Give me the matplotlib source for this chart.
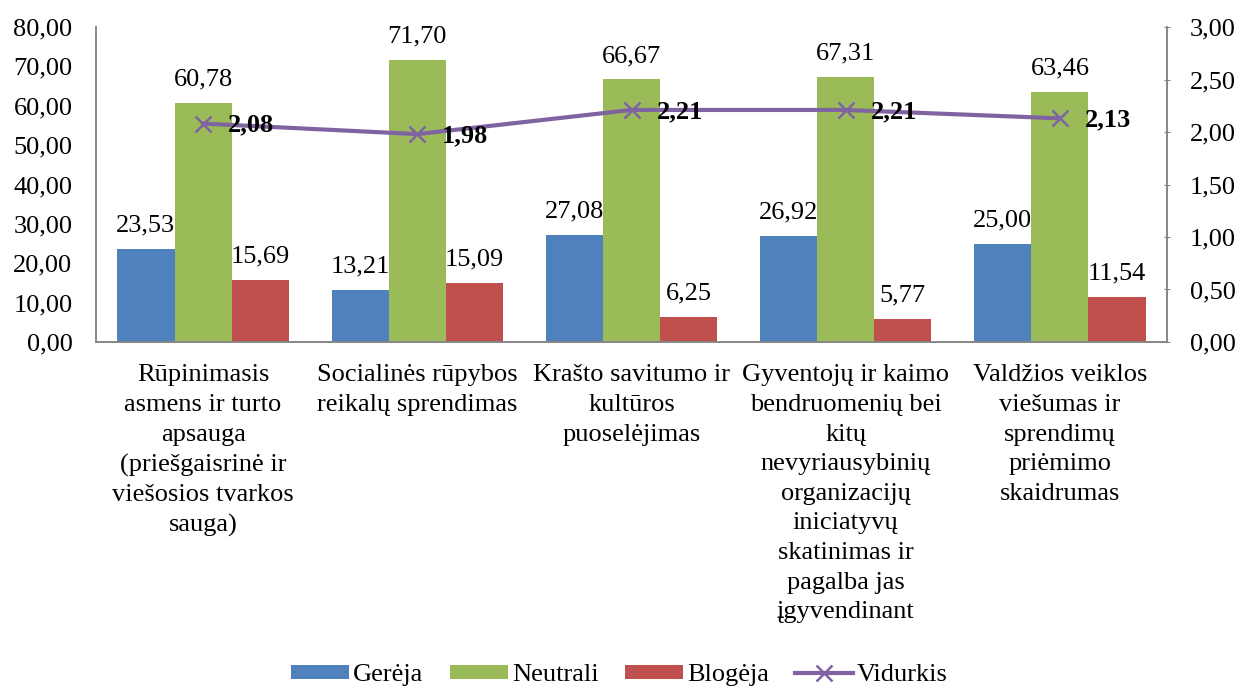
import matplotlib
matplotlib.use('Agg')
import matplotlib.pyplot as plt
import numpy as np
from matplotlib.ticker import FuncFormatter

plt.rcParams['font.family'] = ['Liberation Serif', 'DejaVu Serif']

categories = ['Rūpinimasis\nasmens ir turto\napsauga\n(priešgaisrinė ir\nviešosios tvarkos\nsauga)',
              'Socialinės rūpybos\nreikalų sprendimas',
              'Krašto savitumo ir\nkultūros\npuoselėjimas',
              'Gyventojų ir kaimo\nbendruomenių bei\nkitų\nnevyriausybinių\norganizacijų\niniciatyvų\nskatinimas ir\npagalba jas\nįgyvendinant',
              'Valdžios veiklos\nviešumas ir\nsprendimų\npriėmimo\nskaidrumas']
gereja = [23.53, 13.21, 27.08, 26.92, 25.00]
neutrali = [60.78, 71.70, 66.67, 67.31, 63.46]
blogeja = [15.69, 15.09, 6.25, 5.77, 11.54]
vidurkis = [2.08, 1.98, 2.21, 2.21, 2.13]


def fmt(v):
    return f'{v:.2f}'.replace('.', ',')


fig = plt.figure(figsize=(12.39, 6.86), dpi=100)
ax = fig.add_axes([96/1239, 1-342/686, (1167-96)/1239, (342-27)/686])
ax2 = ax.twinx()

x = np.arange(len(categories))
w = 0.267
series = [(gereja, '#4F81BD', 'Gerėja', -w),
          (neutrali, '#9BBB59', 'Neutrali', 0),
          (blogeja, '#C0504D', 'Blogėja', w)]
handles = []
for vals, col, lab, off in series:
    b = ax.bar(x + off, vals, w, color=col, label=lab)
    handles.append(b)
    for xi, v in zip(x + off, vals):
        ax.annotate(fmt(v), (xi, v), xytext=(0, 9), textcoords='offset points',
                    ha='center', va='bottom', fontsize=19)

ln, = ax2.plot(x, vidurkis, color='#8064A2', lw=3, marker='x', ms=11, mew=1.8,
               label='Vidurkis')
handles.append(ln)
for xi, v in zip(x, vidurkis):
    ax2.annotate(fmt(v), (xi, v), xytext=(18, -1), textcoords='offset points',
                 ha='left', va='center', fontsize=19, fontweight='bold')

ax.set_xlim(-0.5, len(categories) - 0.5)
ax.set_ylim(0, 80)
ax.set_yticks(np.arange(0, 81, 10))
ax2.set_ylim(0, 3)
ax2.set_yticks(np.arange(0, 3.01, 0.5))
ax.yaxis.set_major_formatter(FuncFormatter(lambda v, p: fmt(v)))
ax2.yaxis.set_major_formatter(FuncFormatter(lambda v, p: fmt(v)))

ax.set_xticks(x)
ax.set_xticklabels(categories, fontsize=19, va='top', linespacing=1.45)
ax.tick_params(axis='x', length=0, pad=16)
ax.tick_params(axis='y', length=0, pad=17, labelsize=19)
ax2.tick_params(axis='y', length=5, direction='inout', pad=14, labelsize=19,
                color='#868686')

for a in (ax, ax2):
    a.spines['top'].set_visible(False)
    for s in ('left', 'right', 'bottom'):
        a.spines[s].set_color('#868686')
        a.spines[s].set_linewidth(1.2)

fig.legend(handles=handles, loc='lower center', ncol=4, frameon=False,
           fontsize=19, bbox_to_anchor=(0.5, -0.035), handlelength=2.2,
           handleheight=0.45, columnspacing=1.0, handletextpad=0.15)

fig.savefig('out.png', dpi=100)
